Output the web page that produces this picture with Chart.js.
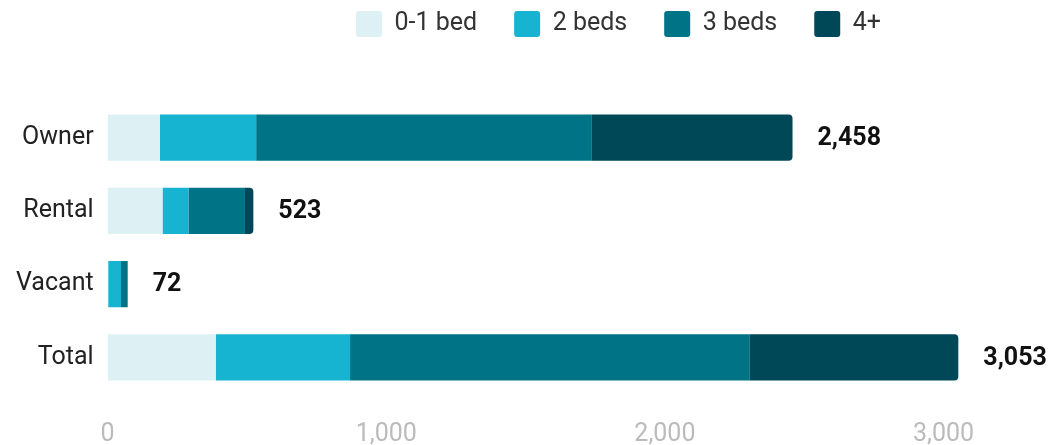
<!DOCTYPE html>
<html>
<head>
<meta charset="utf-8">
<script src="https://cdn.jsdelivr.net/npm/chart.js@4"></script>
<style>
  html, body { margin: 0; padding: 0; background: #fff; }
  #wrap { width: 1055px; height: 445px; position: relative; }
</style>
</head>
<body>
<div id="wrap"><canvas id="c"></canvas></div>
<script>
const categories = ["Owner", "Rental", "Vacant", "Total"];
const seriesNames = ["0-1 bed", "2 beds", "3 beds", "4+"];
const bed01 = [188, 197, 2, 388];
const beds2 = [345, 93, 46, 482];
const beds3 = [1205, 203, 22, 1435];
const beds4 = [720, 30, 2, 748];
const totals = [2458, 523, 72, 3053];
const xTicks = [0, 1000, 2000, 3000];
const colors = ["#ddf0f4", "#17b4d1", "#007487", "#004858"];

const seriesValues = [bed01, beds2, beds3, beds4];
const FONT = "Roboto, 'Noto Sans', sans-serif";

const valueLabels = {
  id: "valueLabels",
  afterDatasetsDraw(chart) {
    const ctx = chart.ctx;
    const xs = chart.scales.x, ys = chart.scales.y;
    ctx.save();
    ctx.font = "bold 25px " + FONT;
    ctx.fillStyle = "#111";
    ctx.textAlign = "left";
    ctx.textBaseline = "middle";
    totals.forEach((t, i) => {
      ctx.fillText(t.toLocaleString("en-US"), xs.getPixelForValue(t) + 25, ys.getPixelForValue(i) + 1);
    });
    ctx.restore();
  }
};

const legendTweak = {
  id: "legendTweak",
  beforeInit(chart) {
    const lg = chart.legend;
    const orig = lg.fit;
    lg.fit = function () {
      orig.call(this);
      this.height = 127;
    };
  },
  afterLayout(chart) {
    chart.legend.left += 90;
    chart.legend.right += 90;
  }
};

new Chart(document.getElementById("c"), {
  type: "bar",
  data: {
    labels: categories,
    datasets: seriesNames.map((n, k) => ({
      label: n,
      data: seriesValues[k],
      backgroundColor: colors[k],
      borderWidth: 0,
      borderRadius: k === 3 ? 4 : 0,
      borderSkipped: k === 3 ? "start" : false,
      barPercentage: 0.63,
      categoryPercentage: 1.0
    }))
  },
  options: {
    indexAxis: "y",
    responsive: true,
    maintainAspectRatio: false,
    animation: false,
    layout: { padding: { left: 2, right: 0, top: -26, bottom: -31 } },
    plugins: {
      legend: {
        position: "top",
        align: "center",
        labels: {
          font: { family: FONT, size: 25 },
          color: "#333",
          boxWidth: 26,
          boxHeight: 26,
          padding: 37,
          useBorderRadius: true,
          borderRadius: 3
        }
      },
      tooltip: { enabled: false }
    },
    scales: {
      x: {
        stacked: true,
        min: 0,
        max: 3400,
        afterBuildTicks(axis) {
          axis.ticks = xTicks.map(v => ({ value: v }));
        },
        grid: { display: false, drawTicks: false },
        border: { display: false },
        ticks: {
          font: { family: FONT, size: 25 },
          color: "#bbb",
          padding: 26,
          callback: v => Number(v).toLocaleString("en-US")
        }
      },
      y: {
        stacked: true,
        grid: { display: false, drawTicks: false },
        border: { display: false },
        ticks: {
          font: { family: FONT, size: 25 },
          color: "#222",
          padding: 14
        }
      }
    }
  },
  plugins: [valueLabels, legendTweak]
});
</script>
</body>
</html>
